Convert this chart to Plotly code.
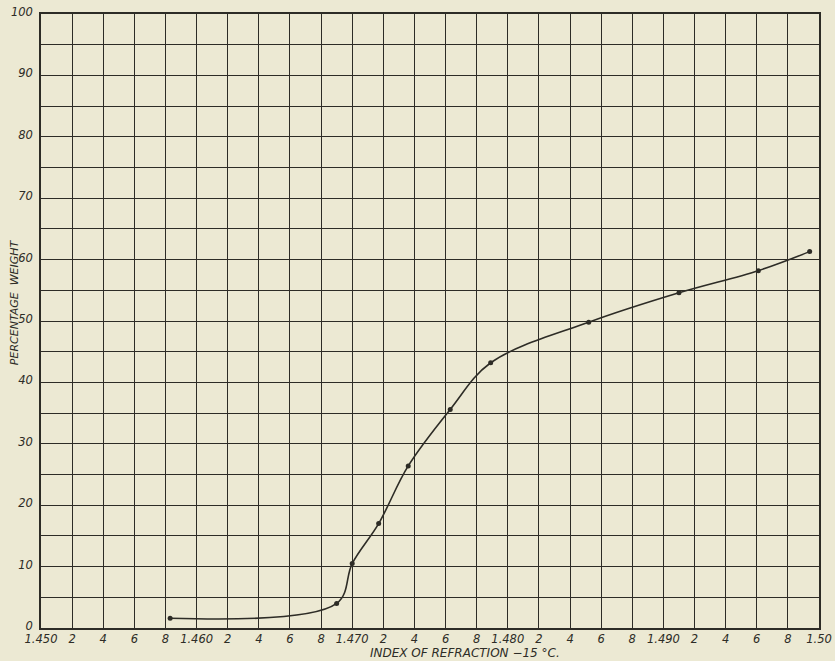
import plotly.graph_objects as go

# Data
refractive_index = [1.4583, 1.4690, 1.4700, 1.4717, 1.4736, 1.4763, 1.4789, 1.4852, 1.4910, 1.4961, 1.4994]
percentage_weight = [1.6, 4.0, 10.5, 17.0, 26.4, 35.6, 43.2, 49.8, 54.6, 58.2, 61.3]

x_tick_vals = [round(1.450 + 0.002 * i, 3) for i in range(26)]
x_tick_text = ["1.450", "2", "4", "6", "8",
               "1.460", "2", "4", "6", "8",
               "1.470", "2", "4", "6", "8",
               "1.480", "2", "4", "6", "8",
               "1.490", "2", "4", "6", "8",
               "1.50"]
y_tick_vals = list(range(0, 101, 5))
y_tick_text = [str(v) if v % 10 == 0 else "" for v in y_tick_vals]

paper = "rgb(236,233,211)"
ink = "rgb(45,44,38)"
font_family = "DejaVu Sans"

fig = go.Figure()
fig.add_trace(go.Scatter(
    x=refractive_index, y=percentage_weight,
    mode="lines+markers",
    line=dict(color=ink, width=1.6, shape="spline", smoothing=1.0),
    marker=dict(color=ink, size=5),
    showlegend=False,
))

axis_common = dict(
    showgrid=True, gridcolor=ink, gridwidth=1.4,
    showline=True, linecolor=ink, linewidth=1.6, mirror=True,
    zeroline=False, ticks="",
)

fig.update_xaxes(range=[1.450, 1.500], tickmode="array", tickvals=x_tick_vals,
                 ticktext=x_tick_text, ticklabelstandoff=-1,
                 tickfont=dict(family=font_family, size=11.5, color=ink, style="italic"),
                 **axis_common)
fig.update_yaxes(range=[0, 100], tickmode="array", tickvals=y_tick_vals,
                 ticktext=y_tick_text, ticklabelstandoff=4, ticklabelshift=-2,
                 tickfont=dict(family=font_family, size=11.5, color=ink, style="italic"),
                 **axis_common)

fig.add_annotation(text="INDEX OF REFRACTION \u221215 \u00b0C.",
                   xref="paper", yref="paper", x=0.545, y=-0.040,
                   xanchor="center", yanchor="middle", showarrow=False,
                   font=dict(family=font_family, size=12, color=ink, style="italic"))
fig.add_annotation(text="PERCENTAGE  WEIGHT",
                   xref="paper", yref="paper", x=-0.034, y=0.53,
                   xanchor="center", yanchor="middle", showarrow=False, textangle=-90,
                   font=dict(family=font_family, size=11, color=ink, style="italic"))

fig.update_layout(
    width=835, height=661,
    margin=dict(l=41, r=16, t=14, b=33, autoexpand=False),
    paper_bgcolor=paper, plot_bgcolor=paper,
)

fig.write_html(
    "out.html",
    config={"displayModeBar": False},
    post_script="document.body.style.margin='0px';document.body.style.background='" + paper + "';",
)
